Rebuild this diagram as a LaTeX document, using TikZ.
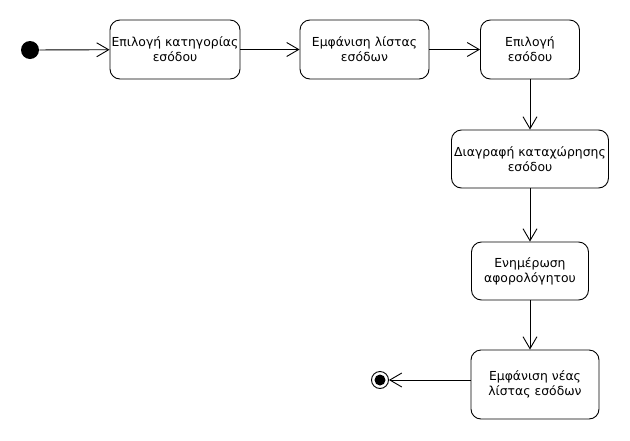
\documentclass[tikz,border=0pt]{standalone}
\usepackage{fontspec}
\setmainfont{DejaVu Sans}
\usetikzlibrary{arrows.meta}

\tikzset{
  state/.style={draw, rounded corners=10pt, align=center, inner sep=0pt,
    font=\fontsize{12.4}{15}\selectfont},
  flow/.style={-{Straight Barb[length=12pt,width=14pt]}}
}

\begin{document}
\begin{tikzpicture}[x=1pt, y=-1pt, line width=0.9pt]
%
         \useasboundingbox (0,0) rectangle (630,440);

         \node [circle, fill, inner sep=0pt, minimum size=18pt] (start) at (30,50) {};
         \node [state, minimum width=130pt, minimum height=59pt] (cat)  at (175,49.5)   {Επιλογή κατηγορίας\\εσόδου};
         \node [state, minimum width=129pt, minimum height=59pt] (list) at (364.5,49.5) {Εμφάνιση λίστας\\εσόδων};
         \node [state, minimum width=99pt,  minimum height=59pt] (sel)  at (530,49.5)   {Επιλογή\\εσόδου};
         \node [state, minimum width=157pt, minimum height=58pt] (del)  at (530,159)    {Διαγραφή καταχώρησης\\εσόδου};
         \node [state, minimum width=117pt, minimum height=58pt] (upd)  at (530,271)    {Ενημέρωση\\αφορολόγητου};
         \node [state, minimum width=128pt, minimum height=69pt] (new)  at (535,384.5)  {Εμφάνιση νέας\\λίστας εσόδων};
         \node [circle, draw, inner sep=0pt, minimum size=17pt] (end) at (380,380) {};
         \fill (end) circle (5.5pt);

         \draw [flow] (start) -- (cat);
         \draw [flow] (cat) -- (list);
         \draw [flow] (list) -- (sel);
         \draw [flow] (sel) -- (del);
         \draw [flow] (del) -- (upd);
         \draw [flow] (upd.south) -- (upd.south |- new.north);
         \draw [flow] (new.west |- end) -- (end);

\end{tikzpicture}
\end{document}
